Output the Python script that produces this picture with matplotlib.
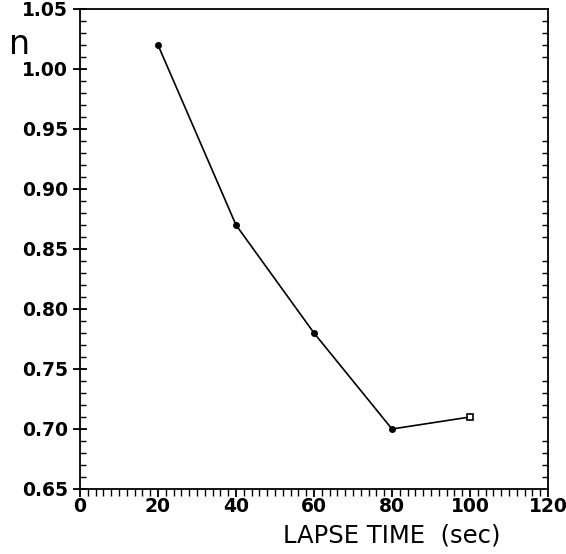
import matplotlib
matplotlib.use("Agg")
import matplotlib.pyplot as plt
from matplotlib.ticker import MultipleLocator

# data
lapse_time = [20, 40, 60, 80, 100]
n_value    = [1.02, 0.87, 0.78, 0.70, 0.71]

plt.rcParams['font.family'] = ['DejaVu Sans']

fig = plt.figure(figsize=(5.66, 5.54), dpi=100)
ax = fig.add_axes([80/566, 1 - 489/554, 468/566, 480/554])

ax.plot(lapse_time[:-1], n_value[:-1], color='black', linewidth=1.2,
        marker='o', markersize=4)
ax.plot(lapse_time[-2:], n_value[-2:], color='black', linewidth=1.2)
ax.plot(lapse_time[-1], n_value[-1], marker='s', markersize=4,
        markerfacecolor='white', markeredgecolor='black', markeredgewidth=1.2)

ax.set_xlim(0, 120)
ax.set_ylim(0.65, 1.05)
ax.xaxis.set_major_locator(MultipleLocator(20))
ax.xaxis.set_minor_locator(MultipleLocator(2))
ax.yaxis.set_major_locator(MultipleLocator(0.05))
ax.yaxis.set_minor_locator(MultipleLocator(0.01))
ax.yaxis.set_major_formatter(plt.FormatStrFormatter('%.2f'))

ax.tick_params(axis='x', which='major', direction='out', length=6, width=1.3,
               labelsize=13.5, pad=0)
ax.tick_params(axis='x', which='minor', direction='out', length=5, width=1.0)
ax.tick_params(axis='y', which='major', direction='inout', length=10, width=1.3,
               labelsize=13.5)
ax.tick_params(axis='y', which='minor', direction='in', length=4, width=1.0,
               right=True)
for lab in ax.get_xticklabels() + ax.get_yticklabels():
    lab.set_fontweight('bold')

for s in ax.spines.values():
    s.set_linewidth(1.3)

ax.set_xlabel('LAPSE TIME  (sec)', fontsize=17.5)
ax.xaxis.set_label_coords((392 - 80) / 468, -(536 - 489) / 480)
ax.xaxis.label.set_va('center')
fig.text(20/566, 1 - 45/554, 'n', fontsize=24, ha='center', va='center')

fig.savefig('out.png', dpi=100)
